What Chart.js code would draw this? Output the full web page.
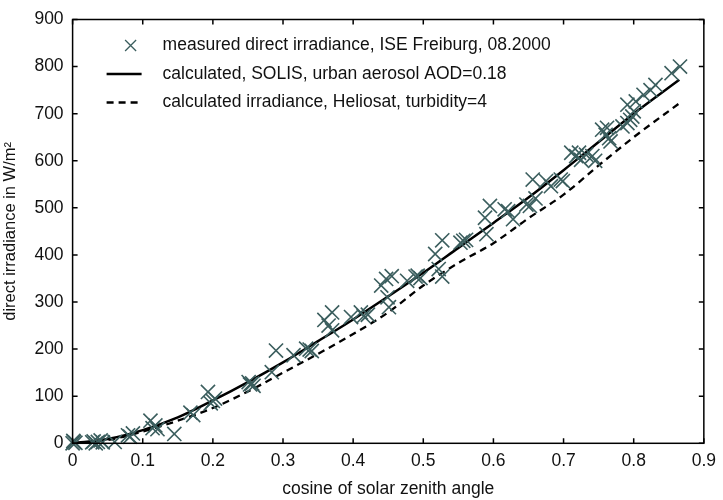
<!DOCTYPE html>
<html><head><meta charset="utf-8">
<script src="https://cdn.jsdelivr.net/npm/chart.js@4.4.1/dist/chart.umd.min.js"></script>
<style>html,body{margin:0;padding:0;background:#fff}</style>
</head><body>
<canvas id="c" width="723" height="500" style="width:723px;height:500px;display:block"></canvas>
<script>
// ---- data ----
const xTicks = [0, 0.1, 0.2, 0.3, 0.4, 0.5, 0.6, 0.7, 0.8, 0.9];
const xTickLabels = ['0', '0.1', '0.2', '0.3', '0.4', '0.5', '0.6', '0.7', '0.8', '0.9'];
const yTicks = [0, 100, 200, 300, 400, 500, 600, 700, 800, 900];
const yTickLabels = ['0', '100', '200', '300', '400', '500', '600', '700', '800', '900'];

const seriesLabels = [
  'measured direct irradiance, ISE Freiburg, 08.2000',
  'calculated, SOLIS, urban aerosol AOD=0.18',
  'calculated irradiance, Heliosat, turbidity=4'
];

const measuredX = [0, 0.002, 0.004, 0.001, 0.028, 0.030, 0.033, 0.036, 0.040, 0.043, 0.060,
  0.079, 0.086, 0.082, 0.111, 0.114, 0.121, 0.118, 0.145, 0.168, 0.172,
  0.193, 0.197, 0.203, 0.200, 0.251, 0.256, 0.258, 0.253, 0.284, 0.290,
  0.315, 0.333, 0.338, 0.341, 0.359, 0.370, 0.370, 0.365,
  0.397, 0.411, 0.421, 0.415, 0.440, 0.447, 0.449, 0.451, 0.455,
  0.477, 0.489, 0.496, 0.492, 0.517, 0.527, 0.522, 0.527,
  0.553, 0.557, 0.561, 0.588, 0.590, 0.595, 0.616, 0.621, 0.628,
  0.647, 0.652, 0.656, 0.660, 0.675, 0.682, 0.696, 0.699,
  0.711, 0.718, 0.722, 0.725, 0.732, 0.741, 0.745,
  0.755, 0.760, 0.765, 0.767, 0.762,
  0.784, 0.791, 0.795, 0.798, 0.791, 0.803, 0.800,
  0.814, 0.824, 0.831, 0.854, 0.866];
const measuredY = [0, 3, 1, 5, 2, 4, 0, 3, 6, 2, 3,
  17, 21, 14, 48, 32, 30, 38, 20, 65, 60,
  109, 85, 95, 90, 130, 127, 122, 125, 151, 197,
  187, 201, 199, 196, 262, 278, 240, 250,
  268, 278, 273, 270, 335, 349, 310, 289, 355,
  345, 354, 351, 356, 402, 431, 370, 354,
  426, 430, 432, 479, 444, 504, 497, 493, 476,
  507, 504, 560, 520, 557, 546, 560, 557,
  617, 610, 617, 602, 613, 610, 600,
  666, 655, 648, 641, 670,
  673, 680, 687, 694, 719, 726, 705,
  740, 750, 761, 786, 800];

const solisX = [0, 0.05, 0.1, 0.15, 0.2, 0.25, 0.3, 0.35, 0.4, 0.45, 0.5, 0.55, 0.6, 0.65, 0.7, 0.75, 0.8, 0.865];
const solisY = [0, 9, 28, 55, 91, 130, 172, 217, 263, 312, 362, 415, 468, 522, 580, 640, 700, 772];

const heliosatX = [0, 0.05, 0.1, 0.15, 0.2, 0.25, 0.3, 0.35, 0.4, 0.45, 0.5, 0.55, 0.6, 0.65, 0.7, 0.75, 0.8, 0.865];
const heliosatY = [0, 7, 25, 48, 75, 110, 150, 190, 232, 278, 335, 383, 425, 478, 528, 590, 650, 722];

// ---- styles ----
const FONT = "'Liberation Sans', Arial, Helvetica, sans-serif";
const FS = 17.5;
const markerColor = '#3b5e5e';

const zip = (xs, ys) => xs.map((x, i) => ({x, y: ys[i]}));

const framePlugin = {
  id: 'frame',
  afterDraw(chart) {
    const {ctx, chartArea: a, scales: {x, y}} = chart;
    ctx.save();
    ctx.strokeStyle = '#000';
    ctx.lineWidth = 1.5;
    ctx.strokeRect(a.left, a.top, a.right - a.left, a.bottom - a.top);
    const L = 5;
    ctx.beginPath();
    x.ticks.forEach(t => {
      const px = x.getPixelForValue(t.value);
      ctx.moveTo(px, a.bottom); ctx.lineTo(px, a.bottom - L);
      ctx.moveTo(px, a.top); ctx.lineTo(px, a.top + L);
    });
    y.ticks.forEach(t => {
      const py = y.getPixelForValue(t.value);
      ctx.moveTo(a.left, py); ctx.lineTo(a.left + L, py);
      ctx.moveTo(a.right, py); ctx.lineTo(a.right - L, py);
    });
    ctx.stroke();

    // legend
    const ds = chart.data.datasets;
    const rowH = 28.5;
    const y0 = a.top + 26;
    const symX = a.left + 58;
    const textX = a.left + 90;
    ctx.font = FS + 'px ' + FONT;
    ctx.textBaseline = 'middle';
    ctx.textAlign = 'left';
    ds.forEach((d, i) => {
      const yy = y0 + i * rowH;
      ctx.save();
      if (d.showLine) {
        ctx.strokeStyle = d.borderColor;
        ctx.lineWidth = d.borderWidth;
        ctx.setLineDash(d.borderDash || []);
        ctx.beginPath();
        ctx.moveTo(symX - 24, yy); ctx.lineTo(symX + 11, yy);
        ctx.stroke();
      } else {
        ctx.strokeStyle = d.borderColor;
        ctx.lineWidth = 1.3;
        const r = 5.5;
        ctx.beginPath();
        ctx.moveTo(symX - r, yy - r); ctx.lineTo(symX + r, yy + r);
        ctx.moveTo(symX - r, yy + r); ctx.lineTo(symX + r, yy - r);
        ctx.stroke();
      }
      ctx.restore();
      ctx.fillStyle = '#111';
      ctx.fillText(d.label, textX, yy);
    });
    ctx.restore();
  }
};

new Chart(document.getElementById('c'), {
  type: 'scatter',
  data: {
    datasets: [
      {
        label: seriesLabels[0],
        data: zip(measuredX, measuredY),
        pointStyle: 'crossRot',
        pointRadius: 10,
        pointHoverRadius: 10,
        borderColor: markerColor,
        backgroundColor: markerColor,
        pointBorderWidth: 1.6,
        showLine: false,
        clip: false,
        order: 0
      },
      {
        label: seriesLabels[1],
        data: zip(solisX, solisY),
        showLine: true,
        borderColor: '#000',
        borderWidth: 2.5,
        pointRadius: 0,
        cubicInterpolationMode: 'monotone',
        order: 2
      },
      {
        label: seriesLabels[2],
        data: zip(heliosatX, heliosatY),
        showLine: true,
        borderColor: '#000',
        borderWidth: 2.3,
        borderDash: [7, 5],
        pointRadius: 0,
        cubicInterpolationMode: 'monotone',
        order: 1
      }
    ]
  },
  options: {
    responsive: false,
    animation: false,
    devicePixelRatio: 1,
    layout: {padding: {left: 0, top: 17, right: 14, bottom: 0}},
    plugins: {legend: {display: false}, tooltip: {enabled: false}},
    scales: {
      x: {
        type: 'linear', min: 0, max: 0.9,
        afterBuildTicks: s => { s.ticks = xTicks.map(v => ({value: v})); },
        afterFit: s => { s.height = 56.7; },
        grid: {display: false, drawTicks: false},
        border: {display: false},
        ticks: {
          color: '#111', font: {family: FONT, size: FS}, padding: 7,
          maxRotation: 0, autoSkip: false,
          callback: (v, i) => xTickLabels[i]
        },
        title: {display: true, text: 'cosine of solar zenith angle', color: '#111',
          font: {family: FONT, size: FS, lineHeight: 1.2}, padding: {top: 2, bottom: 0}}
      },
      y: {
        type: 'linear', min: 0, max: 900,
        afterBuildTicks: s => { s.ticks = yTicks.map(v => ({value: v})); },
        afterFit: s => { s.width = 72.6; },
        grid: {display: false, drawTicks: false},
        border: {display: false},
        ticks: {
          color: '#111', font: {family: FONT, size: FS}, padding: 9,
          autoSkip: false,
          callback: (v, i) => yTickLabels[i]
        },
        title: {display: true, text: 'direct irradiance in W/m²', color: '#111',
          font: {family: FONT, size: 16.5, lineHeight: 1.2}, padding: {top: 1, bottom: 0}}
      }
    }
  },
  plugins: [framePlugin]
});
</script>
</body></html>
